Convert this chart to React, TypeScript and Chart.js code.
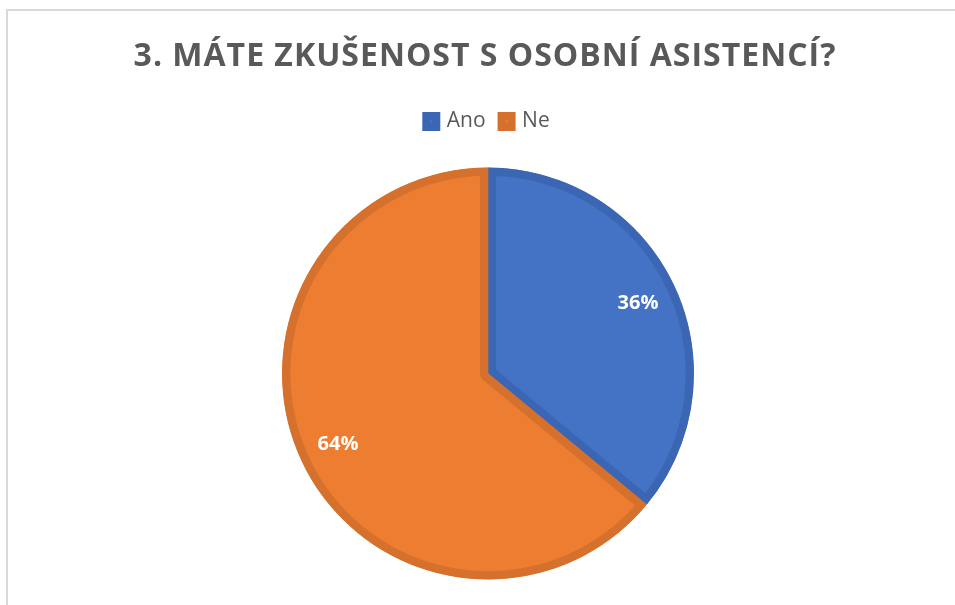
import React, { useEffect, useRef } from "react";
import { Chart, registerables } from "chart.js";

Chart.register(...registerables);

const titleText = "3. MÁTE ZKUŠENOST S OSOBNÍ ASISTENCÍ?";
const categories = ["Ano", "Ne"];
const shares = [36, 64];
const fillColors = ["#4472C4", "#ED7D31"];
const edgeColors = ["#3B66B3", "#D5712C"];

const framePlugin = {
  id: "frame",
  beforeDraw(chart: any) {
    const { ctx, width } = chart;
    ctx.save();
    ctx.fillStyle = "#D9D9D9";
    ctx.fillRect(0, 0, width, 2);
    ctx.fillRect(0, 0, 2, chart.height);
    ctx.fillStyle = "#595959";
    ctx.font = "bold 32px 'Open Sans'";
    (ctx as any).letterSpacing = "1px";
    ctx.textAlign = "center";
    ctx.textBaseline = "alphabetic";
    ctx.fillText(titleText, width / 2 - 3, 57);
    ctx.restore();
  },
};

const labelPlugin = {
  id: "sliceLabels",
  afterDatasetsDraw(chart: any) {
    const { ctx } = chart;
    const meta = chart.getDatasetMeta(0);
    ctx.save();
    ctx.fillStyle = "#FFFFFF";
    ctx.font = "bold 20px 'Open Sans'";
    ctx.textAlign = "center";
    ctx.textBaseline = "middle";
    meta.data.forEach((arc: any, i: number) => {
      const p = arc.getProps(["x", "y", "startAngle", "endAngle", "outerRadius"], true);
      const mid = (p.startAngle + p.endAngle) / 2;
      const r = p.outerRadius * 0.805;
      ctx.fillText(shares[i] + "%", p.x + Math.cos(mid) * r, p.y + Math.sin(mid) * r);
    });
    ctx.restore();
  },
};

export default function App() {
  const ref = useRef<HTMLCanvasElement>(null);
  useEffect(() => {
    if (!ref.current) return;
    const chart = new Chart(ref.current, {
      type: "pie",
      data: {
        labels: categories,
        datasets: [
          {
            data: shares,
            backgroundColor: fillColors,
            borderColor: edgeColors,
            borderWidth: 8,
            borderAlign: "inner",
          } as any,
        ],
      },
      options: {
        responsive: false,
        animation: false,
        radius: 206,
        layout: { padding: { top: 86, bottom: -4, left: 0, right: 0 } },
        plugins: {
          title: { display: false },
          legend: {
            display: true,
            position: "top",
            labels: {
              color: "#595959",
              font: { family: "'Open Sans'", size: 21 },
              boxWidth: 10,
              boxHeight: 11,
              padding: 16,
            },
          },
          tooltip: { enabled: false },
        },
      } as any,
      plugins: [framePlugin, labelPlugin],
    });
    return () => chart.destroy();
  }, []);
  return (
    <div style={{ position: "fixed", left: 0, top: 0, width: 955, height: 605, overflow: "hidden", background: "#fff" }}>
      <canvas ref={ref} width={964} height={596} style={{ position: "absolute", left: 6, top: 9, width: 964, height: 596 }} />
    </div>
  );
}
